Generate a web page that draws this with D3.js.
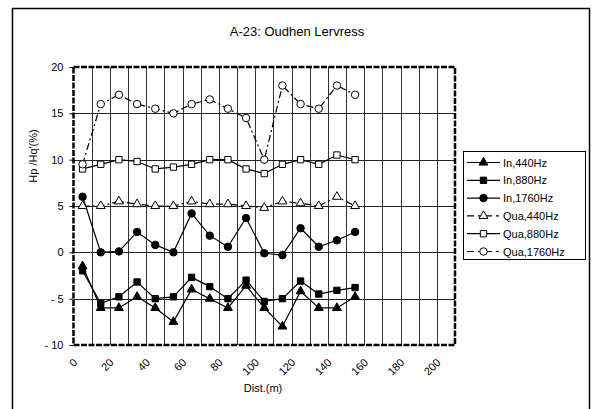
<!DOCTYPE html>
<html><head><meta charset="utf-8">
<script src="https://cdn.jsdelivr.net/npm/d3@7"></script>
<style>body{margin:0;background:#fff}svg{display:block;font-family:"Liberation Sans",Arial,sans-serif}</style>
</head><body><svg id="c" width="593" height="409"></svg>
<script>
const dist = [5,15,25,35,45,55,65,75,85,95,105,115,125,135,145,155];
const in440 = [-1.5,-6,-6,-4.8,-6,-7.5,-4,-5,-6,-3.6,-6,-8,-4.2,-6,-6,-4.8];
const in880 = [-2,-5.5,-4.8,-3.2,-5,-4.8,-2.7,-3.7,-5,-3,-5.3,-5,-3.1,-4.5,-4.1,-3.8];
const in1760 = [6,0,0.1,2.2,0.8,0,4.2,1.8,0.6,3.7,-0.1,-0.3,2.6,0.6,1.3,2.2];
const qua440 = [5,5,5.5,5.2,5,5,5.5,5.2,5.2,5,4.8,5.5,5.3,5,6,5];
const qua880 = [9,9.5,10,9.8,9,9.2,9.5,10,10,9,8.5,9.5,10,9.5,10.5,10];
const qua1760 = [9.5,16,17,16,15.5,15,16,16.5,15.5,14.5,10,18,16,15.5,18,17];
const xTicks = [0,20,40,60,80,100,120,140,160,180,200];
const yTicks = [-10,-5,0,5,10,15,20];
const seriesNames = ["In,440Hz","In,880Hz","In,1760Hz","Qua,440Hz","Qua,880Hz","Qua,1760Hz"];
const title = "A-23: Oudhen Lervress";

const series = [
  {name:seriesNames[0], v:in440, sym:d3.symbolTriangle, fill:"#000", dash:null},
  {name:seriesNames[1], v:in880, sym:d3.symbolSquare, fill:"#000", dash:null},
  {name:seriesNames[2], v:in1760, sym:d3.symbolCircle, fill:"#000", dash:null},
  {name:seriesNames[3], v:qua440, sym:d3.symbolTriangle, fill:"#fff", dash:"7,3,2,3"},
  {name:seriesNames[4], v:qua880, sym:d3.symbolSquare, fill:"#fff", dash:null},
  {name:seriesNames[5], v:qua1760, sym:d3.symbolCircle, fill:"#fff", dash:"7,3,2,3"}
];
const symSize = {0:34,1:40,2:44};

const svg = d3.select("#c");
svg.append("rect").attr("x",12.5).attr("y",8.5).attr("width",577).attr("height",420)
  .attr("fill","none").attr("stroke","#000").attr("stroke-width",1.5);

const L=73.5, R=455, T=67, B=345;
const x = d3.scaleLinear().domain([0,210]).range([L,R]);
const y = d3.scaleLinear().domain([-10,20]).range([B,T]);

// grid
const g = svg.append("g");
g.selectAll("line.vx").data(d3.range(10,210,10)).join("line")
  .attr("x1",d=>Math.round(x(d))+0.5).attr("x2",d=>Math.round(x(d))+0.5).attr("y1",T).attr("y2",B)
  .attr("stroke","#333").attr("stroke-width",1);
g.selectAll("line.hy").data(yTicks.slice(1,-1)).join("line")
  .attr("y1",d=>Math.round(y(d))+0.5).attr("y2",d=>Math.round(y(d))+0.5).attr("x1",L).attr("x2",R)
  .attr("stroke","#222").attr("stroke-width",1);

// axes
const ya = svg.append("g").attr("transform",`translate(${L},0)`)
  .call(d3.axisLeft(y).tickValues(yTicks).tickSize(4).tickPadding(6).tickFormat(d=>d<0?"- "+Math.abs(d):d));
ya.select(".domain").remove();
ya.selectAll("text").attr("font-size",11).attr("font-family","Liberation Sans, Arial");
const xa = svg.append("g").attr("transform",`translate(0,${B})`)
  .call(d3.axisBottom(x).tickValues(xTicks).tickSize(0).tickFormat(d=>d));
xa.select(".domain").remove();
xa.selectAll("text").attr("font-size",11).attr("font-family","Liberation Sans, Arial")
  .attr("text-anchor","end").attr("dy",0)
  .attr("transform","translate(2,16) rotate(-45)");

// frame
svg.append("rect").attr("x",L).attr("y",T).attr("width",R-L).attr("height",B-T)
  .attr("fill","none").attr("stroke","#000").attr("stroke-width",2.5).attr("stroke-dasharray","6,1.5");

// series
const line = d3.line().x((d,i)=>x(dist[i])).y(d=>y(d));
series.forEach((s,k)=>{
  svg.append("path").datum(s.v).attr("d",line).attr("fill","none").attr("stroke","#000")
    .attr("stroke-width",1.2).attr("stroke-dasharray",s.dash);
  svg.append("g").selectAll("path").data(s.v).join("path")
    .attr("d",d3.symbol(s.sym,symSize[k%3]))
    .attr("transform",(d,i)=>`translate(${x(dist[i])},${y(d)})`)
    .attr("fill",s.fill).attr("stroke","#000").attr("stroke-width",1);
});

// titles
svg.append("text").attr("x",297).attr("y",36).attr("text-anchor","middle").attr("font-size",13).text(title);
svg.append("text").attr("transform","translate(37,156) rotate(-90)").attr("text-anchor","middle").attr("font-size",11).text("Hp /Hq'(%)");
svg.append("text").attr("x",263).attr("y",392).attr("text-anchor","middle").attr("font-size",11).text("Dist.(m)");

// legend
const lg = svg.append("g");
lg.append("rect").attr("x",463.5).attr("y",151.5).attr("width",122).attr("height",108)
  .attr("fill","#fff").attr("stroke","#000").attr("stroke-width",1);
series.forEach((s,k)=>{
  const yy = 162.5 + k*17.8;
  lg.append("line").attr("x1",467).attr("x2",500).attr("y1",yy).attr("y2",yy)
    .attr("stroke","#000").attr("stroke-width",1.2).attr("stroke-dasharray",s.dash?"7,4,3,4":null);
  lg.append("path").attr("d",d3.symbol(s.sym,symSize[k%3])()).attr("transform",`translate(483.5,${yy})`)
    .attr("fill",s.fill).attr("stroke","#000");
  lg.append("text").attr("x",503).attr("y",yy+4).attr("font-size",11).text(s.name);
});
</script></body></html>
